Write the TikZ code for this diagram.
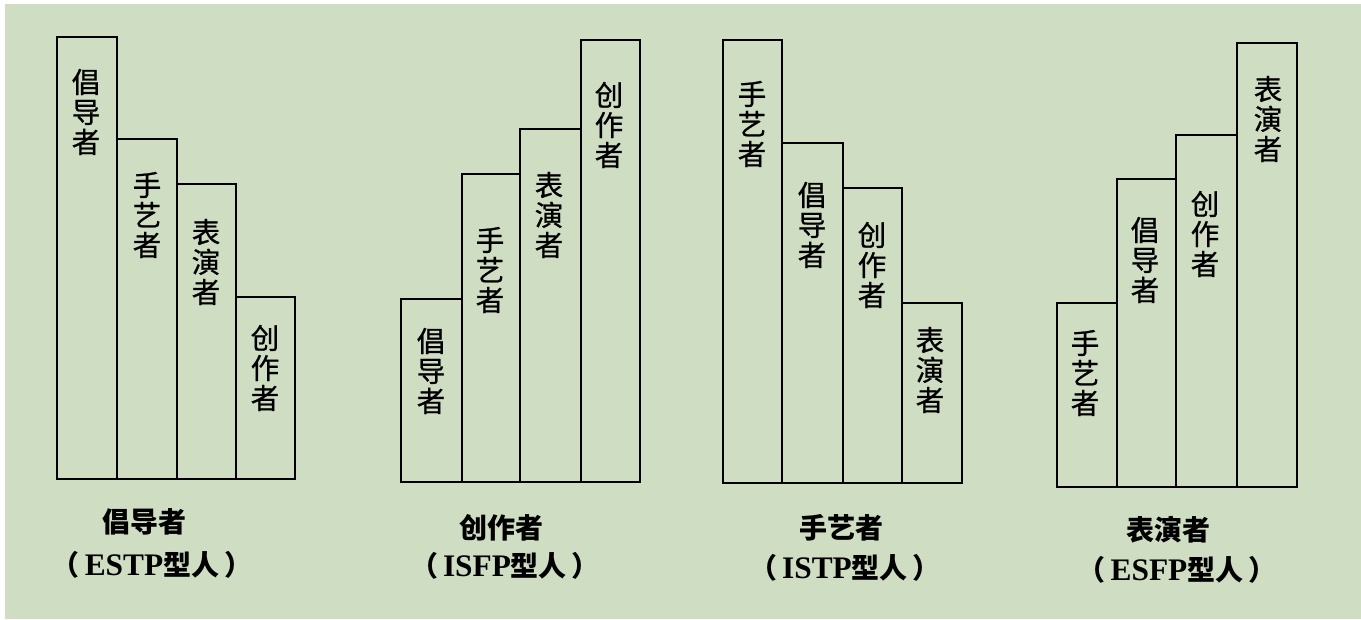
\documentclass[tikz,border=0pt]{standalone}
\usepackage{fontspec}
\newfontfamily\cjk{Noto Sans CJK SC}
\newfontfamily\cjkv{Noto Sans CJK SC}[FakeBold=0.8]
\newfontfamily\lser{Liberation Serif}[Scale=1.12]
\definecolor{bggreen}{RGB}{207,222,195}
\newcommand\mybar[5]{\node[bar,minimum width={(#3-#2)*1pt},minimum height={(#5-#4)*1pt}] (#1) at ({(#2+#3)/2},{(#4+#5)/2}) {};}
\begin{document}
\begin{tikzpicture}[x=1pt,y=-1pt,
  bar/.style={draw=black,line width=1.8pt,inner sep=0pt,outer sep=0pt},
  vt/.style={font=\cjkv\fontsize{28.5}{30}\selectfont,align=center,inner sep=0pt},
  lab/.style={font=\cjk\bfseries\fontsize{28}{30}\selectfont,inner sep=0pt}]
\useasboundingbox (0,0) rectangle (1361,619);
\fill[white] (0,0) rectangle (1361,619);
\fill[bggreen] (5,4) rectangle (1361,619);
% group 1
\mybar{a1}{57}{117}{37}{479}
\mybar{a2}{117}{177}{139}{479}
\mybar{a3}{177}{236}{184}{479}
\mybar{a4}{236}{295}{297}{479}
\node[vt] (ta1) at (86,112) {倡\\导\\者};
\node[vt] (ta2) at (147,215) {手\\艺\\者};
\node[vt] (ta3) at (206,262) {表\\演\\者};
\node[vt] (ta4) at (265,368) {创\\作\\者};
\node[lab] (la1) at (144,522) {倡导者};
\node[lab] (la2) at (152,565) {（\hspace{5pt}{\lser ESTP}型人\hspace{5pt}）};
% group 2
\mybar{b1}{401}{462}{299}{482}
\mybar{b2}{462}{520}{174}{482}
\mybar{b3}{520}{581}{129}{482}
\mybar{b4}{581}{640}{40}{482}
\node[vt] (tb1) at (431,371) {倡\\导\\者};
\node[vt] (tb2) at (490,270) {手\\艺\\者};
\node[vt] (tb3) at (549,215) {表\\演\\者};
\node[vt] (tb4) at (609,125) {创\\作\\者};
\node[lab] (lb1) at (501,528) {创作者};
\node[lab] (lb2) at (505,566) {（\hspace{5pt}{\lser ISFP}型人\hspace{5pt}）};
% group 3
\mybar{c1}{723}{782}{40}{483}
\mybar{c2}{782}{843}{143}{483}
\mybar{c3}{843}{902}{188}{483}
\mybar{c4}{902}{962}{303}{483}
\node[vt] (tc1) at (752,124) {手\\艺\\者};
\node[vt] (tc2) at (812,225) {倡\\导\\者};
\node[vt] (tc3) at (872,265) {创\\作\\者};
\node[vt] (tc4) at (930,370) {表\\演\\者};
\node[lab] (lc1) at (841,528) {手艺者};
\node[lab] (lc2) at (845,568) {（\hspace{5pt}{\lser ISTP}型人\hspace{5pt}）};
% group 4
\mybar{d1}{1057}{1117}{303}{487}
\mybar{d2}{1117}{1176}{179}{487}
\mybar{d3}{1176}{1237}{135}{487}
\mybar{d4}{1237}{1297}{43}{487}
\node[vt] (td1) at (1085,373) {手\\艺\\者};
\node[vt] (td2) at (1145,260) {倡\\导\\者};
\node[vt] (td3) at (1205,234) {创\\作\\者};
\node[vt] (td4) at (1268,119) {表\\演\\者};
\node[lab] (ld1) at (1168,530) {表演者};
\node[lab] (ld2) at (1177,570) {（\hspace{5pt}{\lser ESFP}型人\hspace{5pt}）};
\end{tikzpicture}
\end{document}
